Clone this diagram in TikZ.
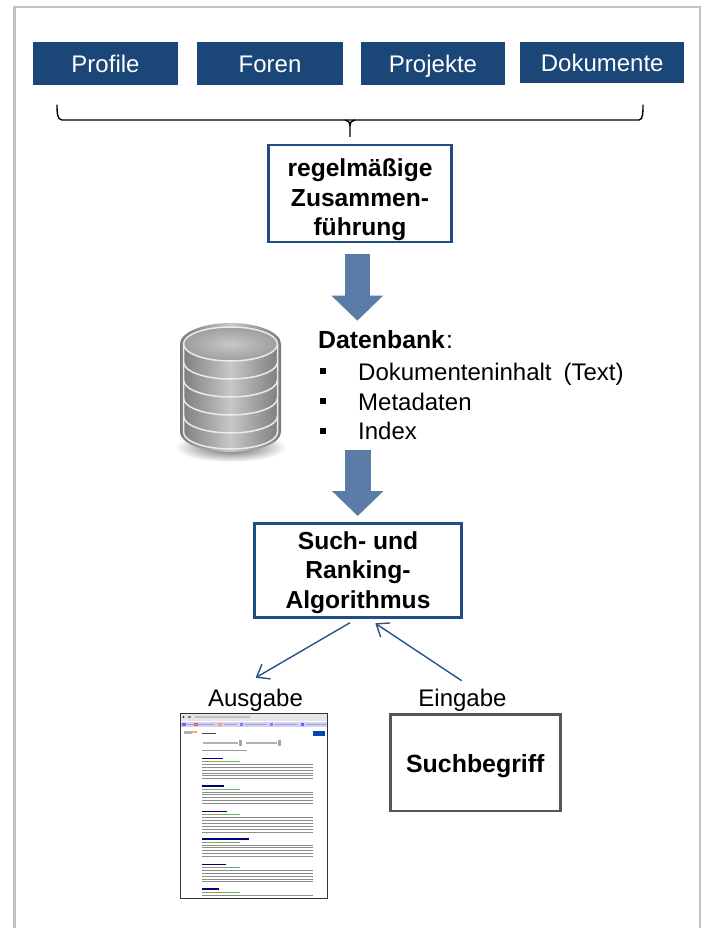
\documentclass[tikz,border=0pt]{standalone}
\usepackage{fontspec}
\setmainfont{Liberation Sans}
\usetikzlibrary{arrows.meta}
\definecolor{navy}{HTML}{1B4678}
\definecolor{framegray}{HTML}{C4C2BE}
\definecolor{boxblue}{HTML}{1F4E86}
\definecolor{arrowblue}{HTML}{5A7CA6}
\definecolor{thinblue}{HTML}{2A5288}
\definecolor{termgray}{HTML}{565656}
\tikzset{
  topbox/.style={fill=navy,draw=none,text=white,font=\fontsize{24}{28}\selectfont,minimum height=42.5pt,text height=20pt,text depth=2.5pt,inner sep=0pt},
  procbox/.style={draw=boxblue,line width=2.7pt,fill=white,align=center,inner sep=0pt,font=\fontsize{24.6}{29.5}\selectfont\bfseries},
  lbl/.style={font=\fontsize{24}{28}\selectfont,inner sep=0pt,anchor=base},
  itemtxt/.style={font=\fontsize{24}{28}\selectfont,inner sep=0pt,anchor=base west},
  blockarrow/.style={draw=arrowblue,line width=25.6pt,-{Triangle[length=25pt,width=50pt]}},
  thinarrow/.style={draw=thinblue,line width=1.4pt,-{Straight Barb[length=11pt,width=17pt,line width=1.4pt]}},
  bul/.style={fill=black,inner sep=0pt,minimum size=6pt},
  ring/.style={draw=white!92!black,line width=1.5pt},
  hl/.style={draw=blue!50!black,line width=1.5pt},
  gr/.style={draw=green!50!black!60,line width=.8pt},
  tx/.style={draw=black!45,line width=.8pt}
}
\begin{document}
\begin{tikzpicture}[x=1pt,y=-1pt]
\useasboundingbox (0,0) rectangle (705,928);
\fill[white] (0,0) rectangle (705,928);
\draw[framegray,line width=2.5pt] (14.5,929) -- (14.5,7) -- (700,7) -- (700,929);

% top boxes
\node[topbox,minimum width=145pt] (profile) at (105.5,63.3) {Profile};
\node[topbox,minimum width=146pt] (foren) at (270,63.3) {Foren};
\node[topbox,minimum width=144pt] (projekte) at (433,63.3) {Projekte};
\node[topbox,minimum width=163.5pt,minimum height=41.8pt] (dokumente) at (602.2,62.6) {Dokumente};

% brace
\coordinate (bl) at (57,105);
\coordinate (br) at (643,105);
\coordinate (bm) at (350,137);
\draw[black,line width=1.4pt,line cap=round] (bl) .. controls (57,112) and (57,120) .. (62,120) -- (639,120) .. controls (643,120) and (643,112) .. (br);
\draw[black,line width=1.4pt] (bm) -- (350,126) .. controls (350,122) and (348,120.5) .. (345,120);
\draw[black,line width=1.4pt] (350,126) .. controls (350,122) and (352,120.5) .. (355,120);

% merge box
\node[procbox,minimum width=183pt,minimum height=97pt] (merge) at (360,193.5) {\rule{0pt}{31pt}regelmäßige\\Zusammen-\\führung};

% block arrow 1
\coordinate (a1s) at (357.3,254);
\coordinate (a1e) at (357.3,320.7);
\draw[blockarrow] (a1s) -- (a1e);

% cylinder
\shade[inner color=black!65,outer color=white] (230.5,447) ellipse (56 and 15);
\shade[left color=black!52,right color=black!52,middle color=black!22]
  (180,344) -- (180,432) arc[x radius=50.5,y radius=-20,start angle=180,end angle=360] -- (281,344) arc[x radius=50.5,y radius=-21,start angle=0,end angle=180] -- cycle;
\shade[inner color=black!22,outer color=black!38] (230.5,344) ellipse (47 and 17);
\draw[ring] (230.5,344) ellipse (47 and 17);
\foreach \yy in {362,380,398,416}{
  \draw[ring] (183.5,\yy) arc[x radius=47,y radius=-17,start angle=180,end angle=360];
}
\draw[ring] (183.5,344) -- (183.5,432) arc[x radius=47,y radius=-17,start angle=180,end angle=360] -- (277.5,344);

% Datenbank text
\node[inner sep=0pt,anchor=base west,font=\fontsize{24}{28}\selectfont] (dbt) at (318,348) {\fontsize{24.8}{28}\selectfont\textbf{Datenbank}\hspace{1pt}:};
\node[bul] (b1) at (323,370.5) {};
\node[bul] (b2) at (323,400.5) {};
\node[bul] (b3) at (323,430.5) {};
\node[itemtxt] (t1) at (358,380) {Dokumenteninhalt\hspace{12pt}(Text)};
\node[itemtxt] (t2) at (358,410) {Metadaten};
\node[itemtxt] (t3) at (358,439.5) {Index};

% block arrow 2
\coordinate (a2s) at (357.7,450);
\coordinate (a2e) at (357.7,516);
\draw[blockarrow] (a2s) -- (a2e);

% search box
\node[procbox,minimum width=206.5pt,minimum height=94pt] (search) at (358,570.7) {\rule{0pt}{21pt}Such- und\\Ranking-\\Algorithmus};

% labels
\node[lbl] (aus) at (255.5,706) {Ausgabe};
\node[lbl] (ein) at (462.5,706) {Eingabe};

% thin arrows
\coordinate (s1) at (350,622.7);
\coordinate (e1) at (255.7,677.7);
\coordinate (s2) at (461.7,680.7);
\coordinate (e2) at (375.3,623.3);
\draw[thinarrow] (s1) -- (e1);
\draw[thinarrow] (s2) -- (e2);

% search term box
\node[draw=termgray,line width=2.7pt,fill=white,minimum width=170pt,minimum height=96.5pt,inner sep=0pt,text height=22pt,text depth=3pt,font=\fontsize{24.9}{28}\selectfont\bfseries] (term) at (475.3,762.8) {Suchbegriff};

% screenshot (result list, drawn as small strokes)
\node[draw=black!80,line width=1.2pt,fill=white,minimum width=147pt,minimum height=185pt,inner sep=0pt] (shot) at (254,806) {};
\fill[black!10] (181,714) rectangle (327,721);
\fill[red!70!black] (183.5,717) circle (1.2);
\fill[black!50] (188,716) rectangle (191,718);
\fill[black!25] (195,716) rectangle (250,718);
\fill[blue!18] (181,722) rectangle (327,727);
\fill[blue!60] (182,723) rectangle (186,726);
\fill[red!70] (194,723) rectangle (198,726);
\fill[orange!70] (218,723) rectangle (222,726);
\fill[blue!50] (240,723) rectangle (243,726);
\fill[blue!50] (270,723) rectangle (273,726);
\fill[blue!60] (301,723) rectangle (304,726);
\foreach \x/\w in {187/14,200/14,224/13,245/22,275/22,306/20}{
  \draw[black!35,line width=.8pt] (\x,724.5) -- (\x+\w,724.5);
}
\fill[black!30] (184,731) rectangle (192,734);
\fill[orange!70] (192,731) rectangle (197,733);
\draw[black!70,line width=1pt] (202,733.5) -- (216,733.5);
\fill[blue!60!cyan!70!black] (313,731) rectangle (325,736);
\draw[black!30,line width=2pt] (203,742.5) -- (238,742.5);
\fill[black!35] (239,740) rectangle (242,746);
\draw[black!30,line width=2pt] (246,742.5) -- (277,742.5);
\fill[black!35] (278,740) rectangle (281,746);
\draw[black!40,line width=.7pt] (202,750.7) -- (247,750.7);
\foreach \y/\hw/\n in {758.3/21/6,786/22/5,811.7/25.6/6,839/47.7/5,864.3/24.4/5,889/17.7/1}{
  \draw[hl] (201.7,\y) -- (201.7+\hw,\y);
  \draw[gr] (201.7,\y+3) -- (240,\y+3);
  \draw[orange,line width=.8pt] (212,\y+3) -- (216,\y+3);
  \foreach \k in {1,...,\n}{
    \draw[tx] (201.7,\y+3+2.9*\k) -- (313,\y+3+2.9*\k);
  }
}
\end{tikzpicture}
\end{document}
